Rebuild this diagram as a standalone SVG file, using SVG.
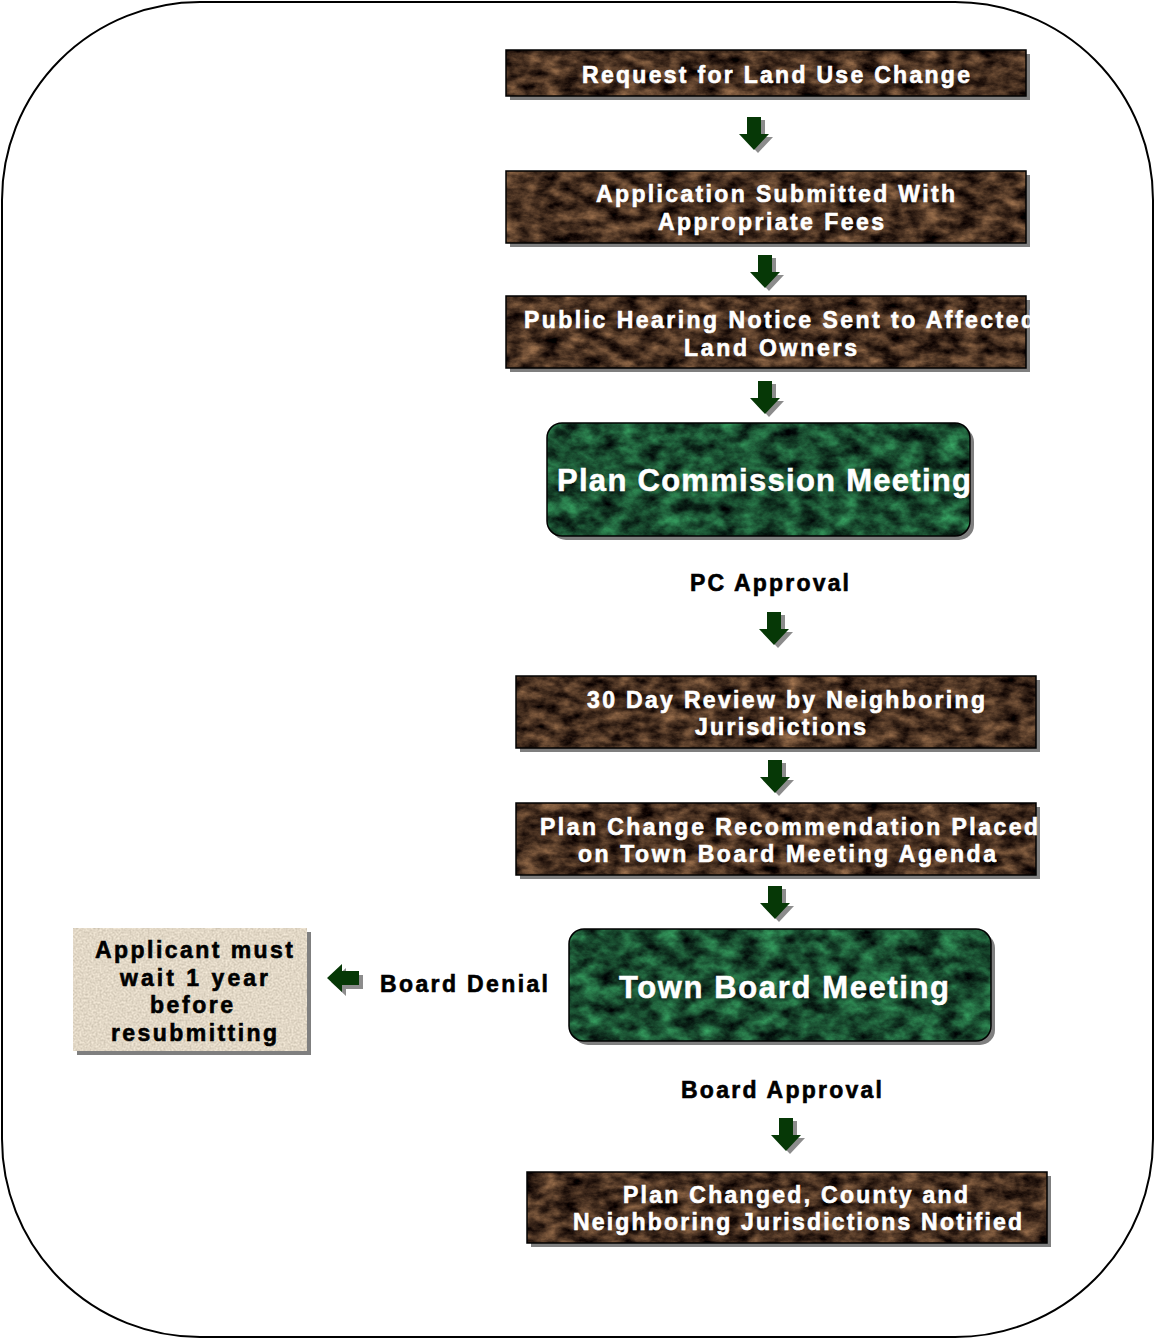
<svg xmlns="http://www.w3.org/2000/svg" width="1155" height="1339" viewBox="0 0 1155 1339">
<style>
.shadow{fill:#7f7f7f}
.brown{fill:#000;filter:url(#fBrown)}
.green{fill:#000;filter:url(#fGreen)}
.beige{fill:#000;filter:url(#fBeige)}
.edge{fill:none;stroke:#000;stroke-width:1.5}
.wt{font-family:"Liberation Sans",Arial,sans-serif;font-weight:bold;font-size:23px;fill:#fff;stroke:#fff;stroke-width:0.6;text-anchor:middle}
.wg{font-family:"Liberation Sans",Arial,sans-serif;font-weight:bold;font-size:31px;fill:#fff;stroke:#fff;stroke-width:0.5;text-anchor:middle}
.bt{font-family:"Liberation Sans",Arial,sans-serif;font-weight:bold;font-size:23px;fill:#000;stroke:#000;stroke-width:0.6;text-anchor:middle}
.arr{fill:#063806}
.ash{fill:#8c8c8c}
</style>
<defs>
<filter id="fBrown" x="0" y="0" width="100%" height="100%" color-interpolation-filters="sRGB">
<feTurbulence type="fractalNoise" baseFrequency="0.05 0.09" numOctaves="5" seed="3" result="n"/>
<feColorMatrix in="n" type="matrix" values="0.85 0 0 0 -0.15  0.65 0 0 0 -0.14  0.45 0 0 0 -0.1  0 0 0 0 1" result="c"/>
<feComposite in="c" in2="SourceGraphic" operator="in"/>
</filter>
<filter id="fGreen" x="0" y="0" width="100%" height="100%" color-interpolation-filters="sRGB">
<feTurbulence type="fractalNoise" baseFrequency="0.05 0.07" numOctaves="5" seed="7" result="n"/>
<feColorMatrix in="n" type="matrix" values="0.3 0 0 0 -0.05  0.85 0 0 0 -0.12  0.5 0 0 0 -0.06  0 0 0 0 1" result="c"/>
<feComposite in="c" in2="SourceGraphic" operator="in"/>
</filter>
<filter id="fBeige" x="0" y="0" width="100%" height="100%" color-interpolation-filters="sRGB">
<feTurbulence type="fractalNoise" baseFrequency="0.5" numOctaves="2" seed="5" result="n"/>
<feColorMatrix in="n" type="matrix" values="0.25 0 0 0 0.76  0.25 0 0 0 0.72  0.25 0 0 0 0.65  0 0 0 0 1" result="c"/>
<feComposite in="c" in2="SourceGraphic" operator="in"/>
</filter>
</defs>

<g id="frame">
<rect x="2" y="2" width="1151" height="1335" rx="198" ry="198" fill="#fff" stroke="#000" stroke-width="2"/>
</g>

<g id="connectors">
<g transform="translate(754,117)"><polygon class="ash" transform="translate(4,3)" points="-7,0 7,0 7,17 15,17 0,33 -15,17 -7,17"/><polygon class="arr" points="-7,0 7,0 7,17 15,17 0,33 -15,17 -7,17"/></g>
<g transform="translate(765,255)"><polygon class="ash" transform="translate(4,3)" points="-7,0 7,0 7,17 15,17 0,33 -15,17 -7,17"/><polygon class="arr" points="-7,0 7,0 7,17 15,17 0,33 -15,17 -7,17"/></g>
<g transform="translate(765,381)"><polygon class="ash" transform="translate(4,3)" points="-7,0 7,0 7,17 15,17 0,33 -15,17 -7,17"/><polygon class="arr" points="-7,0 7,0 7,17 15,17 0,33 -15,17 -7,17"/></g>
<g transform="translate(774,612)"><polygon class="ash" transform="translate(4,3)" points="-7,0 7,0 7,17 15,17 0,33 -15,17 -7,17"/><polygon class="arr" points="-7,0 7,0 7,17 15,17 0,33 -15,17 -7,17"/></g>
<g transform="translate(775,760)"><polygon class="ash" transform="translate(4,3)" points="-7,0 7,0 7,17 15,17 0,33 -15,17 -7,17"/><polygon class="arr" points="-7,0 7,0 7,17 15,17 0,33 -15,17 -7,17"/></g>
<g transform="translate(775,886)"><polygon class="ash" transform="translate(4,3)" points="-7,0 7,0 7,17 15,17 0,33 -15,17 -7,17"/><polygon class="arr" points="-7,0 7,0 7,17 15,17 0,33 -15,17 -7,17"/></g>
<g transform="translate(786,1118)"><polygon class="ash" transform="translate(4,3)" points="-7,0 7,0 7,17 15,17 0,33 -15,17 -7,17"/><polygon class="arr" points="-7,0 7,0 7,17 15,17 0,33 -15,17 -7,17"/></g>
<g transform="translate(327,978)"><polygon class="ash" transform="translate(4,4)" points="0,0 15,-14 15,-7 32,-7 32,7 15,7 15,14"/><polygon class="arr" points="0,0 15,-14 15,-7 32,-7 32,7 15,7 15,14"/></g>
</g>

<g id="n1">
<rect class="shadow" x="510" y="54" width="520" height="46"/>
<rect class="brown" x="506" y="50" width="520" height="46"/>
<rect class="edge" x="506" y="50" width="520" height="46"/>
<text class="wt" x="776" y="83" textLength="388" lengthAdjust="spacing">Request for Land Use Change</text>
</g>

<g id="n2">
<rect class="shadow" x="510" y="175" width="520" height="72"/>
<rect class="brown" x="506" y="171" width="520" height="72"/>
<rect class="edge" x="506" y="171" width="520" height="72"/>
<text class="wt" x="775.5" y="202" textLength="359" lengthAdjust="spacing">Application Submitted With</text>
<text class="wt" x="771" y="230" textLength="226" lengthAdjust="spacing">Appropriate Fees</text>
</g>

<g id="n3">
<rect class="shadow" x="510" y="300" width="520" height="72"/>
<rect class="brown" x="506" y="296" width="520" height="72"/>
<rect class="edge" x="506" y="296" width="520" height="72"/>
<text class="wt" x="779.5" y="328" textLength="511" lengthAdjust="spacing">Public Hearing Notice Sent to Affected</text>
<text class="wt" x="770.5" y="356" textLength="173" lengthAdjust="spacing">Land Owners</text>
</g>

<g id="n4">
<rect class="shadow" x="551" y="427" width="423" height="113" rx="15"/>
<rect class="green" x="547" y="423" width="423" height="113" rx="15"/>
<rect class="edge" x="547" y="423" width="423" height="113" rx="15"/>
<text class="wg" x="764" y="491" textLength="414" lengthAdjust="spacing">Plan Commission Meeting</text>
</g>

<g id="l1">
<text class="bt" x="769.5" y="591" textLength="159" lengthAdjust="spacing">PC Approval</text>
</g>

<g id="n5">
<rect class="shadow" x="520" y="680" width="520" height="72"/>
<rect class="brown" x="516" y="676" width="520" height="72"/>
<rect class="edge" x="516" y="676" width="520" height="72"/>
<text class="wt" x="786" y="708" textLength="398" lengthAdjust="spacing">30 Day Review by Neighboring</text>
<text class="wt" x="780.5" y="735" textLength="171" lengthAdjust="spacing">Jurisdictions</text>
</g>

<g id="n6">
<rect class="shadow" x="520" y="807" width="520" height="72"/>
<rect class="brown" x="516" y="803" width="520" height="72"/>
<rect class="edge" x="516" y="803" width="520" height="72"/>
<text class="wt" x="789" y="835" textLength="498" lengthAdjust="spacing">Plan Change Recommendation Placed</text>
<text class="wt" x="787" y="862" textLength="418" lengthAdjust="spacing">on Town Board Meeting Agenda</text>
</g>

<g id="n7">
<rect class="shadow" x="573" y="933" width="422" height="112" rx="15"/>
<rect class="green" x="569" y="929" width="422" height="112" rx="15"/>
<rect class="edge" x="569" y="929" width="422" height="112" rx="15"/>
<text class="wg" x="784" y="998" textLength="330" lengthAdjust="spacing">Town Board Meeting</text>
</g>

<g id="l2">
<text class="bt" x="464" y="992" textLength="168" lengthAdjust="spacing">Board Denial</text>
</g>

<g id="n8">
<rect class="shadow" x="77" y="932" width="234" height="123"/>
<rect class="beige" x="73" y="928" width="234" height="123"/>
<text class="bt" x="194" y="958" textLength="198" lengthAdjust="spacing">Applicant must</text>
<text class="bt" x="194" y="986" textLength="148" lengthAdjust="spacing">wait 1 year</text>
<text class="bt" x="191.5" y="1013" textLength="83" lengthAdjust="spacing">before</text>
<text class="bt" x="194" y="1041" textLength="166" lengthAdjust="spacing">resubmitting</text>
</g>

<g id="l3">
<text class="bt" x="781.5" y="1098" textLength="201" lengthAdjust="spacing">Board Approval</text>
</g>

<g id="n9">
<rect class="shadow" x="531" y="1176" width="520" height="71"/>
<rect class="brown" x="527" y="1172" width="520" height="71"/>
<rect class="edge" x="527" y="1172" width="520" height="71"/>
<text class="wt" x="795.5" y="1203" textLength="345" lengthAdjust="spacing">Plan Changed, County and</text>
<text class="wt" x="797.5" y="1230" textLength="449" lengthAdjust="spacing">Neighboring Jurisdictions Notified</text>
</g>
</svg>
